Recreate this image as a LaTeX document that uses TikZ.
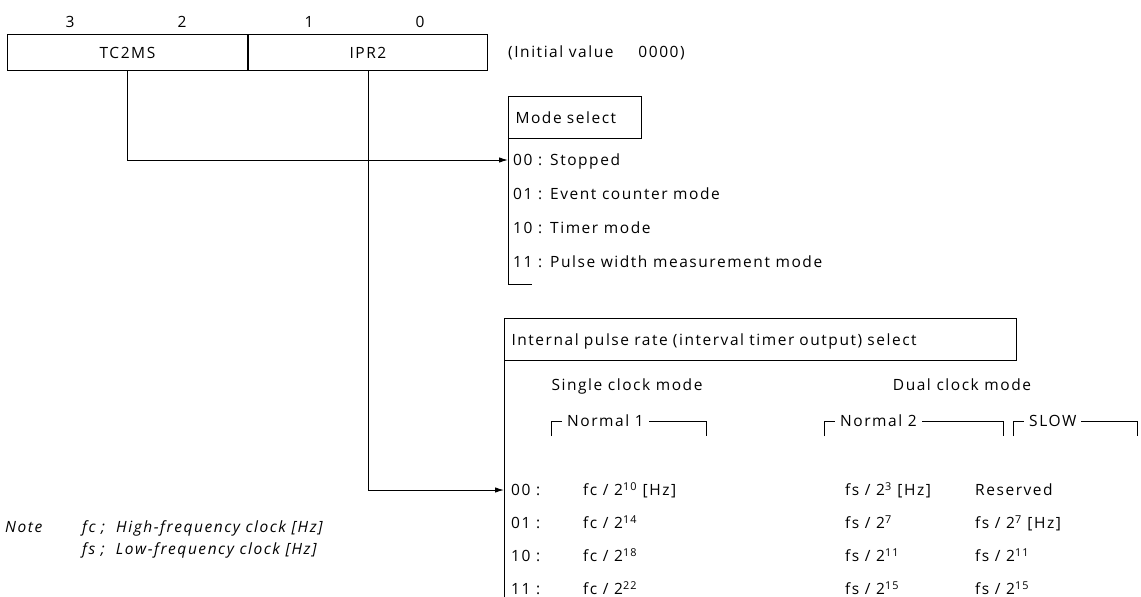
\documentclass[tikz,border=0pt]{standalone}
\usepackage{fontspec}
\setmainfont{Open Sans}[LetterSpace=10]
\usetikzlibrary{arrows.meta}

\begin{document}
\begin{tikzpicture}[x=1pt,y=-1pt,
  font=\fontsize{15.5}{18}\selectfont,
  every node/.style={inner sep=0pt,text height=11pt,text depth=0pt},
  wire/.style={line width=1pt},
  feed/.style={wire,-{Latex[length=9pt,width=5.5pt]}},
  field/.style={draw,line width=1pt,minimum height=36,anchor=north west},
  hdr/.style={draw,line width=1pt,minimum height=42,anchor=north west,inner xsep=7pt,align=left},
  lbl/.style={anchor=west},
  note/.style={lbl,font=\fontsize{15.5}{18}\selectfont\itshape}]
  \useasboundingbox (0,0) rectangle (1141,597);

  % register fields
  \node (b3) at (70,22) {3};
  \node (b2) at (182,22) {2};
  \node (b1) at (309,22) {1};
  \node (b0) at (420,22) {0};
  \node[field,minimum width=240] (tc2ms) at (7,34) {TC2MS};
  \node[field,minimum width=239] (ipr2) at (tc2ms.north east) {IPR2};
  \node[lbl] (init) at (508,52) {(Initial value\hspace{1.6em}0000)};

  % Mode select table
  \node[hdr,text width=119] (modehdr) at (508,96) {Mode select};
  \foreach \c/\t [count=\i from 0] in {00/Stopped, 01/Event counter mode,
      10/Timer mode, 11/Pulse width measurement mode} {
    \node[lbl] (mc\i) at (513,{160+34*\i}) {\c\ :};
    \node[lbl] (mt\i) at (550,{160+34*\i}) {\t};
  }
  \coordinate (modein) at (modehdr.south west |- mc0.west);
  \coordinate (modeend) at (508,284);
  \draw[wire] (modehdr.south west) -- (modeend) -- ++(24,0);

  % Internal pulse rate table
  \node[hdr,text width=498] (ratehdr) at (504,318)
    {Internal pulse rate (interval timer output) select};
  \coordinate (rateend) at (504,597);
  \draw[wire] (ratehdr.south west) -- (rateend);
  \node (single) at (627,385) {Single clock mode};
  \node (dual) at (962,385) {Dual clock mode};
  \foreach \n/\l/\r [count=\i] in {Normal 1/551/706, Normal 2/824/1003, SLOW/1013/1137} {
    \draw[wire] (\l,436) |- (\r,421) -- (\r,436);
    \node[lbl,fill=white,inner xsep=5pt] (grp\i) at ({\l+11},421) {\n};
  }
  \foreach \c/\a/\b/\s [count=\i from 0] in {
      00/{fc / 2\textsuperscript{10} [Hz]}/{fs / 2\textsuperscript{3} [Hz]}/Reserved,
      01/{fc / 2\textsuperscript{14}}/{fs / 2\textsuperscript{7}}/{fs / 2\textsuperscript{7} [Hz]},
      10/{fc / 2\textsuperscript{18}}/{fs / 2\textsuperscript{11}}/{fs / 2\textsuperscript{11}},
      11/{fc / 2\textsuperscript{22}}/{fs / 2\textsuperscript{15}}/{fs / 2\textsuperscript{15}}} {
    \node[lbl] (rc\i) at (511,{490+33*\i}) {\c\ :};
    \node[lbl] (ra\i) at (583,{490+33*\i}) {\a};
    \node[lbl] (rb\i) at (845,{490+33*\i}) {\b};
    \node[lbl] (rs\i) at (975,{490+33*\i}) {\s};
  }
  \coordinate (ratein) at (ratehdr.south west |- rc0.west);

  % connectors
  \draw[feed] (tc2ms.south) |- (modein);
  \draw[feed] (ipr2.south) |- (ratein);

  % Note
  \node[note] (notetag) at (5,527) {Note};
  \node[note] (notefc) at (82,527) {fc ;\ \ High-frequency clock [Hz]};
  \node[note] (notefs) at (82,549) {fs ;\ \ Low-frequency clock [Hz]};
\end{tikzpicture}
\end{document}
